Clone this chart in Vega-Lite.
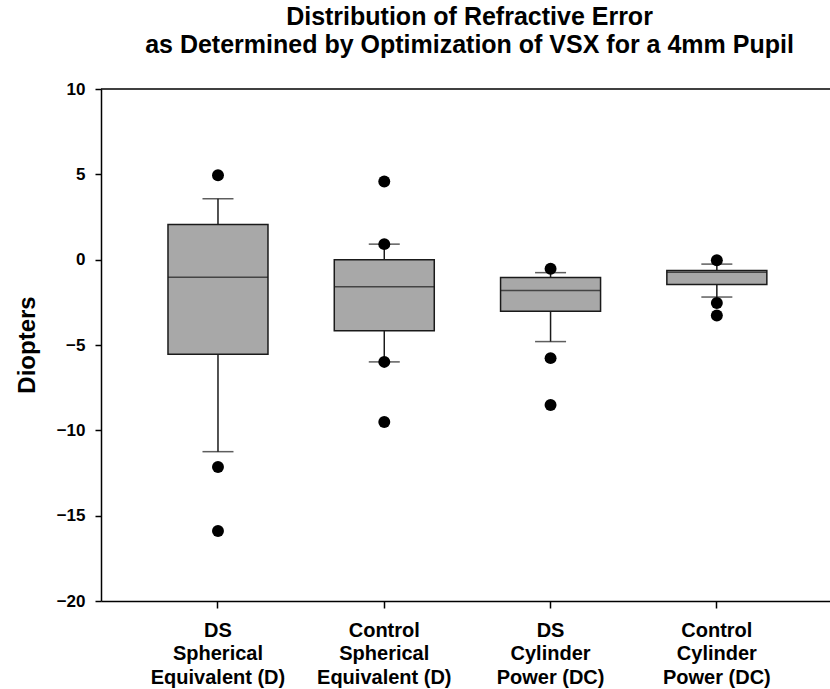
{
  "$schema": "https://vega.github.io/schema/vega-lite/v6.json",
  "width": 729,
  "height": 512,
  "autosize": {"type": "none"},
  "padding": {"left": 101, "top": 89, "right": 0, "bottom": 88},
  "background": "white",
  "title": {
    "text": ["Distribution of Refractive Error", "as Determined by Optimization of VSX for a 4mm Pupil"],
    "fontSize": 25,
    "font": "Liberation Sans",
    "fontWeight": "bold",
    "lineHeight": 28,
    "anchor": "middle",
    "frame": "group",
    "offset": 22,
    "dx": 4,
    "color": "black"
  },
  "config": {
    "view": {"stroke": null},
    "font": "Liberation Sans",
    "axis": {"domainColor": "black", "tickColor": "black", "labelColor": "black", "titleColor": "black", "grid": false, "domainWidth": 1.5, "tickWidth": 1.5}
  },
  "datasets": {
    "boxes": [
      {"group": "DS|Spherical|Equivalent (D)", "lw": -11.25, "q1": -5.54, "med": -1.03, "q3": 2.06, "uw": 3.57},
      {"group": "Control|Spherical|Equivalent (D)", "lw": -5.99, "q1": -4.17, "med": -1.58, "q3": 0.0, "uw": 0.91},
      {"group": "DS|Cylinder|Power (DC)", "lw": -4.8, "q1": -3.02, "med": -1.8, "q3": -1.04, "uw": -0.76},
      {"group": "Control|Cylinder|Power (DC)", "lw": -2.19, "q1": -1.46, "med": -0.74, "q3": -0.63, "uw": -0.26}
    ],
    "outliers": [
      {"group": "DS|Spherical|Equivalent (D)", "value": 4.95},
      {"group": "DS|Spherical|Equivalent (D)", "value": -12.15},
      {"group": "DS|Spherical|Equivalent (D)", "value": -15.9},
      {"group": "Control|Spherical|Equivalent (D)", "value": 4.58},
      {"group": "Control|Spherical|Equivalent (D)", "value": 0.91},
      {"group": "Control|Spherical|Equivalent (D)", "value": -5.99},
      {"group": "Control|Spherical|Equivalent (D)", "value": -9.51},
      {"group": "DS|Cylinder|Power (DC)", "value": -0.53},
      {"group": "DS|Cylinder|Power (DC)", "value": -5.77},
      {"group": "DS|Cylinder|Power (DC)", "value": -8.52},
      {"group": "Control|Cylinder|Power (DC)", "value": -0.04},
      {"group": "Control|Cylinder|Power (DC)", "value": -2.54},
      {"group": "Control|Cylinder|Power (DC)", "value": -3.27}
    ]
  },
  "layer": [
    {
      "data": {"name": "boxes"},
      "mark": {"type": "rule", "color": "#1a1a1a", "strokeWidth": 1.5},
      "encoding": {
        "x": {"field": "group", "type": "nominal", "sort": null,
          "scale": {"domain": ["DS|Spherical|Equivalent (D)", "Control|Spherical|Equivalent (D)", "DS|Cylinder|Power (DC)", "Control|Cylinder|Power (DC)"], "paddingInner": 0, "paddingOuter": 0.192, "align": 0.53},
          "axis": {"title": null, "labelAngle": 0, "labelFontSize": 20, "labelFontWeight": "bold", "labelLineHeight": 23.5, "labelBaseline": "top", "tickSize": 7, "labelPadding": 12, "labelLimit": 0, "labelExpr": "split(datum.label, '|')"}},
        "y": {"field": "lw", "type": "quantitative",
          "scale": {"domain": [-20, 10], "nice": false, "zero": false},
          "axis": {"values": [-20, -15, -10, -5, 0, 5, 10], "labelFontSize": 17, "labelFontWeight": "bold", "tickSize": 6, "labelPadding": 10, "title": "Diopters", "titleFontSize": 24, "titleFontWeight": "bold", "titleX": -73.5, "titleY": 255.5, "titleAngle": -90, "titleBaseline": "middle", "titleAlign": "center"}},
        "y2": {"field": "uw"}
      }
    },
    {
      "data": {"name": "boxes"},
      "mark": {"type": "bar", "size": 100, "fill": "#a8a8a8", "stroke": "#1a1a1a", "strokeWidth": 1.5},
      "encoding": {
        "x": {"field": "group", "type": "nominal", "sort": null},
        "y": {"field": "q1", "type": "quantitative"},
        "y2": {"field": "q3"}
      }
    },
    {
      "data": {"name": "boxes"},
      "mark": {"type": "tick", "size": 100, "thickness": 1.5, "color": "#1a1a1a"},
      "encoding": {
        "x": {"field": "group", "type": "nominal", "sort": null},
        "y": {"field": "med", "type": "quantitative"}
      }
    },
    {
      "data": {"name": "boxes"},
      "mark": {"type": "tick", "size": 31, "thickness": 1.5, "color": "#1a1a1a"},
      "encoding": {
        "x": {"field": "group", "type": "nominal", "sort": null},
        "y": {"field": "lw", "type": "quantitative"}
      }
    },
    {
      "data": {"name": "boxes"},
      "mark": {"type": "tick", "size": 31, "thickness": 1.5, "color": "#1a1a1a"},
      "encoding": {
        "x": {"field": "group", "type": "nominal", "sort": null},
        "y": {"field": "uw", "type": "quantitative"}
      }
    },
    {
      "data": {"name": "outliers"},
      "mark": {"type": "circle", "size": 143, "color": "black", "opacity": 1},
      "encoding": {
        "x": {"field": "group", "type": "nominal", "sort": null},
        "y": {"field": "value", "type": "quantitative"}
      }
    },
    {
      "data": {"values": [{}]},
      "mark": {"type": "rule", "color": "black", "strokeWidth": 1.5},
      "encoding": {"y": {"datum": 10}}
    }
  ]
}
